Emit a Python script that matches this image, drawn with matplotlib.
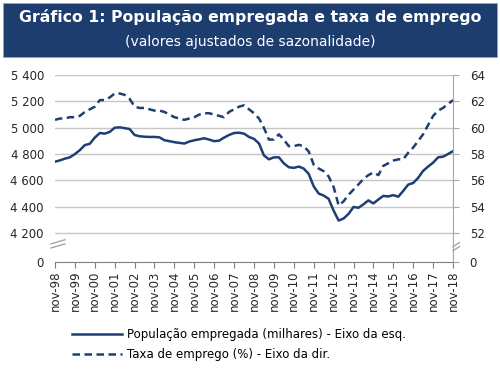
import numpy as np
import pandas as pd
import matplotlib
matplotlib.use("Agg")
import matplotlib.pyplot as plt
from matplotlib.patches import Rectangle

# quarterly readings, nov-98 .. nov-18
datas = pd.date_range("1998-11-01", "2018-11-01", freq="3MS")

populacao = [4742, 4752, 4765, 4775, 4800, 4830, 4868, 4878, 4925, 4960,
             4955, 4968, 5000, 5003, 4997, 4990, 4945, 4935, 4932, 4930,
             4930, 4927, 4905, 4898, 4890, 4885, 4880, 4895, 4905, 4912,
             4920, 4910, 4898, 4902, 4925, 4945, 4960, 4962, 4955, 4930,
             4915, 4880, 4790, 4760, 4775, 4775, 4730, 4700, 4695, 4705,
             4690, 4650, 4555, 4500, 4485, 4460, 4370, 4295, 4310, 4345,
             4398, 4392, 4418, 4448, 4425, 4455, 4482, 4478, 4488, 4476,
             4520, 4568, 4580, 4620, 4672, 4705, 4735, 4775, 4780, 4800,
             4822]

taxa = [60.6, 60.7, 60.7, 60.8, 60.8, 60.9, 61.2, 61.4, 61.6, 62.1,
        62.1, 62.3, 62.6, 62.6, 62.5, 62.2, 61.6, 61.5, 61.5, 61.4,
        61.3, 61.3, 61.2, 61.0, 60.8, 60.7, 60.6, 60.7, 60.8, 61.0,
        61.1, 61.1, 61.0, 60.9, 60.8, 61.2, 61.4, 61.6, 61.7, 61.4,
        61.1, 60.7, 60.0, 59.1, 59.1, 59.5, 59.1, 58.6, 58.6, 58.7,
        58.6, 58.2, 57.2, 56.9, 56.7, 56.3, 55.5, 54.1, 54.4, 54.9,
        55.3, 55.7, 56.1, 56.4, 56.6, 56.4, 57.1, 57.3, 57.5, 57.6,
        57.6, 58.1, 58.5, 59.0, 59.5, 60.2, 60.9, 61.3, 61.5, 61.8,
        62.1]

ticks_esq = [4200, 4400, 4600, 4800, 5000, 5200, 5400]
ticks_dir = [52, 54, 56, 58, 60, 62, 64]
anos = pd.date_range("1998-11-01", "2018-11-01", freq="12MS")
rotulos_x = ["nov-%02d" % (d.year % 100) for d in anos]

azul = "#1f3f73"
cinza = "#c6c6c6"

plt.rcParams["font.family"] = "DejaVu Sans"
fig = plt.figure(figsize=(5, 3.85), dpi=100)

# title box
fig.patches.append(Rectangle((0.006, 0.852), 0.988, 0.14, transform=fig.transFigure,
                             facecolor="#1d3d6f", edgecolor="#9aa5b5", lw=0.6))
fig.text(0.5, 0.955, "Gráfico 1: População empregada e taxa de emprego", color="white",
         fontsize=11.3, fontweight="bold", ha="center", va="center")
fig.text(0.5, 0.89, "(valores ajustados de sazonalidade)", color="white",
         fontsize=10, ha="center", va="center")

ax = fig.add_axes([0.11, 0.3195, 0.796, 0.4855])
ax2 = ax.twinx()

l1, = ax.plot(datas, populacao, color=azul, lw=1.8, label="População empregada (milhares) - Eixo da esq.")
l2, = ax2.plot(datas, taxa, color=azul, lw=1.8, ls=(0, (3, 1.8)), label="Taxa de emprego (%) - Eixo da dir.")

zero_esq = 3980
ax.set_ylim(zero_esq, 5400)
ax2.set_ylim(52 - (4200 - zero_esq) / 100, 64)
ax.set_xlim(anos[0], anos[-1])

ax.set_yticks([zero_esq] + ticks_esq)
ax.set_yticklabels(["0"] + [f"{v:,}".replace(",", " ") for v in ticks_esq])
ax2.set_yticks([ax2.get_ylim()[0]] + ticks_dir)
ax2.set_yticklabels(["0"] + [str(v) for v in ticks_dir])

for v in ticks_esq:
    ax.axhline(v, color=cinza, lw=1, zorder=0)

ax.set_xticks(anos)
ax.set_xticklabels(rotulos_x, rotation=90)

for a in (ax, ax2):
    for s in ("top", "left"):
        a.spines[s].set_visible(False)
ax.spines["right"].set_visible(False)
ax2.spines["bottom"].set_visible(False)
ax2.spines["right"].set_color("#a6a6a6")
ax.spines["bottom"].set_color("#7f7f7f")

ax.tick_params(axis="y", length=0, labelsize=8.5, pad=8, colors="#262626")
ax.tick_params(axis="x", length=4, color="#7f7f7f", labelsize=8.5, labelcolor="#262626", pad=2)
ax2.tick_params(axis="y", length=4, color="#a6a6a6", labelsize=8.5, labelcolor="#262626", pad=8)

# axis break marks
for xb, yb in ((-0.01, 0.075), (1.0, 0.06)):
    for dy in (0.0, 0.022):
        ax.plot([xb, xb + 0.035 if xb < 0 else xb + 0.016],
                [yb + dy, yb + dy + 0.022], transform=ax.transAxes,
                color="#a6a6a6", lw=1, clip_on=False)

fig.legend(handles=[l1, l2], loc="upper left", bbox_to_anchor=(0.135, 0.16),
           frameon=False, fontsize=8.5, handlelength=4.2, handletextpad=0.4,
           labelspacing=0.6, borderaxespad=0)

fig.savefig("out.png", dpi=100)
